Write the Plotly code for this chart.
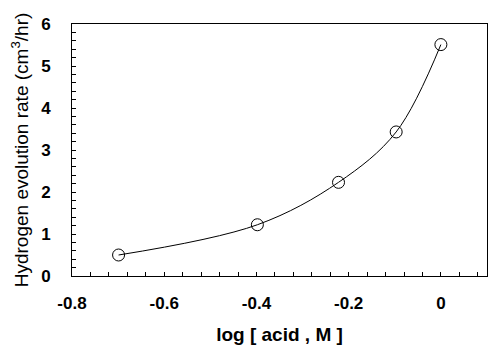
import numpy as np
import plotly.graph_objects as go

log_acid = [-0.699, -0.398, -0.222, -0.097, 0.0]
h2_rate = [0.5, 1.22, 2.23, 3.43, 5.51]

x_ticks = [-0.8, -0.6, -0.4, -0.2, 0]
x_ticklabels = ["-0.8", "-0.6", "-0.4", "-0.2", "0"]
y_ticks = [0, 1, 2, 3, 4, 5, 6]

fig = go.Figure()
fig.add_trace(go.Scatter(
    x=log_acid, y=h2_rate, mode="lines+markers",
    line=dict(color="black", width=1, shape="spline", smoothing=1.0),
    marker=dict(symbol="circle-open", size=12, color="black", line=dict(width=1, color="black")),
    showlegend=False,
))

font_tick = dict(family="Liberation Sans, Arial", size=17, color="black", weight="bold")

fig.update_layout(
    width=500, height=358,
    margin=dict(l=72, r=13, t=24, b=82),
    paper_bgcolor="white", plot_bgcolor="white",
    xaxis=dict(
        range=[-0.8, 0.1], tickvals=x_ticks, ticktext=x_ticklabels,
        ticks="inside", ticklen=4, tickcolor="black", tickwidth=1,
        minor=dict(ticks="inside", dtick=0.04, tick0=-0.8, ticklen=4, tickcolor="black"),
        showline=True, linecolor="black", linewidth=1, mirror=True,
        showgrid=False, zeroline=False, automargin=False,
        tickfont=font_tick, ticklabelstandoff=12,
        title=dict(text="log [ acid , M ]", font=dict(family="Liberation Sans, Arial", size=19, color="black", weight="bold"), standoff=15),
    ),
    yaxis=dict(
        range=[0, 6], tickvals=y_ticks,
        ticks="inside", ticklen=4, tickcolor="black", tickwidth=1,
        minor=dict(ticks="inside", dtick=0.2, ticklen=4, tickcolor="black"),
        showline=True, linecolor="black", linewidth=1, mirror=True,
        showgrid=False, zeroline=False, automargin=False,
        tickfont=font_tick, ticklabelstandoff=17,
        title=dict(text="Hydrogen evolution rate (cm<sup>3</sup>/hr)", font=dict(family="Liberation Sans, Arial", size=19, color="black"), standoff=7),
    ),
)

fig.write_html("out.html", config={"displayModeBar": False},
               post_script="document.body.style.margin='0px';")
